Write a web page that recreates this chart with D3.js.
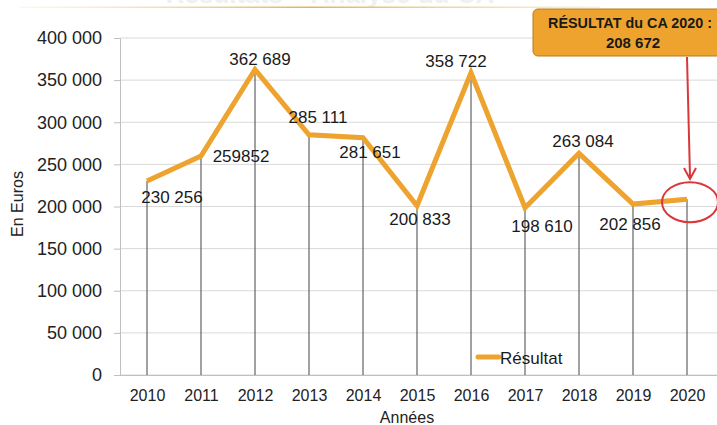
<!DOCTYPE html>
<html>
<head>
<meta charset="utf-8">
<script src="https://cdn.jsdelivr.net/npm/d3@7"></script>
<style>
  body { margin: 0; background: #fff; }
  svg { display: block; font-family: "Liberation Sans", Arial, sans-serif; }
</style>
</head>
<body>
<script>
// chart size
const width = 717;
const height = 425;

// data
const years = ["2010", "2011", "2012", "2013", "2014", "2015", "2016", "2017", "2018", "2019", "2020"];
const values = [230256, 259852, 362689, 285111, 281651, 200833, 358722, 198610, 263084, 202856, 208672];
const labels = ["230 256", "259852", "362 689", "285 111", "281 651", "200 833", "358 722", "198 610", "263 084", "202 856", ""];
// label offsets relative to the point (dx, dy to baseline)
const labelPos = [[25, 22], [40, 6], [5, -4], [9, -12], [7, 20], [3, 19], [-15, -6], [17, 24], [4, -6], [-3, 26], [0, 0]];
const yTicks = [0, 50000, 100000, 150000, 200000, 250000, 300000, 350000, 400000];

const orange = "#eea32f";
const spaced = d => d3.format(",")(d).replace(/,/g, " ");

const svg = d3.select("body").append("svg")
    .attr("width", width)
    .attr("height", height);

// faded header at top
const grad = svg.append("defs").append("linearGradient")
    .attr("id", "fade");
grad.append("stop").attr("offset", "0%").attr("stop-color", "#f3d9a4").attr("stop-opacity", 0.2);
grad.append("stop").attr("offset", "50%").attr("stop-color", "#e3b25a");
grad.append("stop").attr("offset", "100%").attr("stop-color", "#f3d9a4").attr("stop-opacity", 0.4);
svg.append("text")
    .attr("x", 330)
    .attr("y", 3)
    .attr("text-anchor", "middle")
    .attr("fill", "#f0f0f0")
    .style("font-size", "26px")
    .style("font-weight", "bold")
    .text("Résultats – Analyse du CA");
svg.append("rect")
    .attr("x", 20).attr("y", 6.5)
    .attr("width", 580).attr("height", 1.5)
    .attr("fill", "url(#fade)");

// scales
const x = d3.scalePoint()
    .domain(years)
    .range([147, 687]);

const y = d3.scaleLinear()
    .domain([0, 400000])
    .range([375, 38]);

// gridlines
svg.append("g")
    .selectAll("line")
    .data(yTicks)
    .join("line")
    .attr("x1", 120)
    .attr("x2", width)
    .attr("y1", d => y(d))
    .attr("y2", d => y(d))
    .attr("stroke", "#d9d9d9")
    .attr("stroke-width", 1);

// y axis
const yAxis = svg.append("g")
    .attr("transform", "translate(120,0)")
    .call(d3.axisLeft(y).tickValues(yTicks).tickSize(6).tickPadding(12).tickFormat(spaced));
yAxis.select(".domain").attr("stroke", "#bfbfbf");
yAxis.selectAll(".tick line").attr("stroke", "#bfbfbf");
yAxis.selectAll(".tick text")
    .attr("fill", "#222")
    .style("font-size", "18px")
    .style("font-family", "Liberation Sans, Arial, sans-serif");

// x axis
const xAxis = svg.append("g")
    .attr("transform", "translate(0,375)")
    .call(d3.axisBottom(x).tickSize(0).tickPadding(15));
xAxis.select(".domain").attr("d", "M120,0.5H" + width).attr("stroke", "#bfbfbf");
xAxis.selectAll(".tick text")
    .attr("fill", "#222")
    .style("font-size", "16px")
    .style("font-family", "Liberation Sans, Arial, sans-serif");

// drop lines
svg.append("g")
    .selectAll("line")
    .data(values)
    .join("line")
    .attr("x1", (d, i) => x(years[i]))
    .attr("x2", (d, i) => x(years[i]))
    .attr("y1", d => y(d))
    .attr("y2", y(0))
    .attr("stroke", "#444")
    .attr("stroke-width", 1);

// axis titles
svg.append("text")
    .attr("transform", "translate(23,204) rotate(-90)")
    .attr("text-anchor", "middle")
    .attr("fill", "#222")
    .style("font-size", "16px")
    .text("En Euros");

svg.append("text")
    .attr("x", 407)
    .attr("y", 423)
    .attr("text-anchor", "middle")
    .attr("fill", "#222")
    .style("font-size", "16px")
    .text("Années");

// line
const line = d3.line()
    .x((d, i) => x(years[i]))
    .y(d => y(d));

svg.append("path")
    .datum(values)
    .attr("d", line)
    .attr("fill", "none")
    .attr("stroke", orange)
    .attr("stroke-width", 5)
    .attr("stroke-linejoin", "miter");

// point labels
svg.append("g")
    .selectAll("text")
    .data(values)
    .join("text")
    .attr("x", (d, i) => x(years[i]) + labelPos[i][0])
    .attr("y", (d, i) => y(d) + labelPos[i][1])
    .attr("text-anchor", "middle")
    .attr("fill", "#1a1a1a")
    .style("font-size", "17px")
    .text((d, i) => labels[i]);

// legend
svg.append("line")
    .attr("x1", 478).attr("x2", 499)
    .attr("y1", 357).attr("y2", 357)
    .attr("stroke", orange)
    .attr("stroke-width", 5)
    .attr("stroke-linecap", "round");
svg.append("text")
    .attr("x", 500)
    .attr("y", 364)
    .attr("fill", "#1a1a1a")
    .style("font-size", "17px")
    .text("Résultat");

// callout
const last = values[values.length - 1];
const lastX = x(years[years.length - 1]);

svg.append("rect")
    .attr("x", 533).attr("y", 9)
    .attr("width", 200).attr("height", 47)
    .attr("rx", 5)
    .attr("fill", "#eea32f")
    .attr("stroke", "#b97a1c")
    .attr("stroke-width", 1);
svg.append("text")
    .attr("x", 548)
    .attr("y", 28)
    .attr("fill", "#1a1a1a")
    .attr("textLength", 164)
    .attr("lengthAdjust", "spacingAndGlyphs")
    .style("font-size", "15px")
    .style("font-weight", "bold")
    .style("font-family", "Liberation Sans, Arial, sans-serif")
    .text("RÉSULTAT du CA 2020 :");
svg.append("text")
    .attr("x", 633)
    .attr("y", 48)
    .attr("text-anchor", "middle")
    .attr("fill", "#1a1a1a")
    .style("font-size", "15px")
    .style("font-weight", "bold")
    .style("font-family", "Liberation Sans, Arial, sans-serif")
    .text(spaced(last));

// red arrow
svg.append("line")
    .attr("x1", 687).attr("y1", 57)
    .attr("x2", 690).attr("y2", 177)
    .attr("stroke", "#d9383a")
    .attr("stroke-width", 2);
svg.append("path")
    .attr("d", "M684,168 L690,179 L696,168")
    .attr("fill", "none")
    .attr("stroke", "#d9383a")
    .attr("stroke-width", 2);

// red ellipse around last point
svg.append("ellipse")
    .attr("cx", lastX + 3)
    .attr("cy", y(last) + 3)
    .attr("rx", 28)
    .attr("ry", 20)
    .attr("fill", "none")
    .attr("stroke", "#d9383a")
    .attr("stroke-width", 2);
</script>
</body>
</html>
